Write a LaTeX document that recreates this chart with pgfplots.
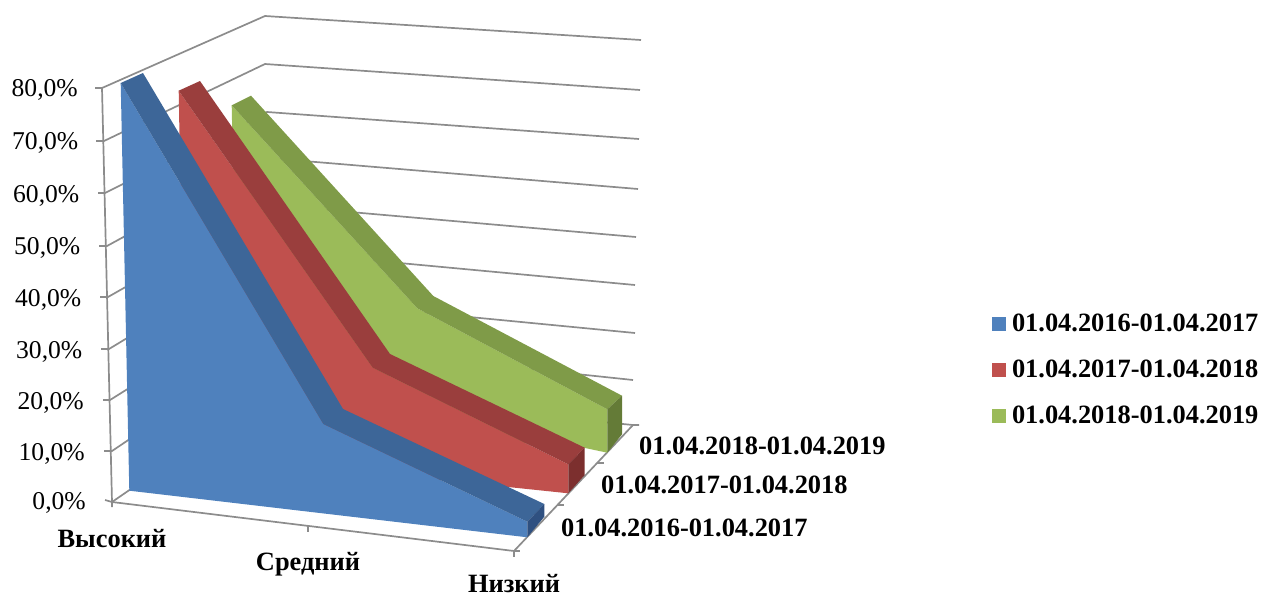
\documentclass[border=0pt]{standalone}
\usepackage{pgfplots}
\pgfplotsset{compat=1.18}
\usepackage{fontspec}
\setmainfont{Liberation Serif}
\definecolor{bluef}{HTML}{4F81BD}\definecolor{blueb}{HTML}{3D6698}\definecolor{blues}{HTML}{2F5080}
\definecolor{redf}{HTML}{C0504D}\definecolor{redb}{HTML}{9A3E3D}\definecolor{reds}{HTML}{7C2F2E}
\definecolor{greenf}{HTML}{9BBB59}\definecolor{greenb}{HTML}{7F9B48}\definecolor{greens}{HTML}{647B37}
\definecolor{gridc}{HTML}{8C8C8C}
\newcommand{\tl}[3]{\node[anchor=east,inner sep=0pt,font=\fontsize{25.6}{26}\selectfont] at (axis cs:#1,#2) {#3};}
\newcommand{\cl}[3]{\node[anchor=center,inner sep=0pt,font=\fontsize{26.4}{27}\selectfont\bfseries] at (axis cs:#1,#2) {#3};}
\newcommand{\dl}[3]{\node[anchor=west,inner sep=0pt,font=\fontsize{26.4}{27}\selectfont\bfseries] at (axis cs:#1,#2) {#3};}
\begin{document}
\begin{tikzpicture}
\useasboundingbox (0pt,0pt) rectangle (1264pt,597pt);
\begin{axis}[
  at={(0pt,0pt)},anchor=south west,scale only axis,
  width=1264pt,height=597pt,y dir=reverse,
  xmin=0,xmax=1264,ymin=0,ymax=597,
  hide axis,clip=false,
  legend style={draw=none,fill=none,at={(axis cs:992,312)},anchor=north west,
    font=\fontsize{26.4}{27}\selectfont\bfseries,
    inner sep=0pt,outer sep=0pt,
    /tikz/row sep=23pt,
    cells={anchor=west}},
  legend image code/.code={\fill[#1] (0pt,-7pt) rectangle (14pt,7pt);\path (18pt,0pt);},
]
% walls: tick start, front axis point, back corner, right end
\addplot[gridc,line width=1.7pt,forget plot] coordinates {(95,88)(102,88)(265,16)(641,40)};
\addplot[gridc,line width=1.7pt,forget plot] coordinates {(96,141)(104,141)(265,64)(640,90)};
\addplot[gridc,line width=1.7pt,forget plot] coordinates {(98,193)(105,193)(267,112)(639,139)};
\addplot[gridc,line width=1.7pt,forget plot] coordinates {(99,246)(107,246)(268,158)(638,189)};
\addplot[gridc,line width=1.7pt,forget plot] coordinates {(100,297)(108,297)(270,205)(636,237)};
\addplot[gridc,line width=1.7pt,forget plot] coordinates {(101,349)(109,349)(271,251)(635,285)};
\addplot[gridc,line width=1.7pt,forget plot] coordinates {(103,400)(110,400)(273,298)(635,333)};
\addplot[gridc,line width=1.7pt,forget plot] coordinates {(104,451)(112,451)(274,342)(633,380)};
\addplot[gridc,line width=1.7pt,forget plot] coordinates {(105,500)(112,502)(275,390)(633,425)};
% vertical axis
\addplot[gridc,line width=1.7pt,forget plot] coordinates {(102,88)(112,502)};
% floor edges and ticks
\addplot[gridc,line width=1.7pt,forget plot] coordinates {(112,507)(112,502)(514,551)(633,425)(639,425)};
\addplot[gridc,line width=1.7pt,forget plot] coordinates {(308,525)(308,532)};
\addplot[gridc,line width=1.7pt,forget plot] coordinates {(514,551)(514,557)};
\addplot[gridc,line width=1.7pt,forget plot] coordinates {(514,551)(520,551)};
\addplot[gridc,line width=1.7pt,forget plot] coordinates {(557,505)(564,505)};
\addplot[gridc,line width=1.7pt,forget plot] coordinates {(597,463)(604,463)};
% series 2018-2019
\addplot[fill=greenf,draw=none,forget plot] coordinates {(231.7,105.3)(417.3,308.3)(607.3,409.3)(607.3,452.7)(585,448)(238,420)} --cycle;
\addplot[fill=greenb,draw=none,forget plot] coordinates {(231.7,105.3)(251,95.7)(433.3,296)(622,395.7)(607.3,409.3)(417.3,308.3)} --cycle;
\addplot[fill=greens,draw=none,forget plot] coordinates {(607.3,409.3)(622,395.7)(622,434.3)(607.3,452.7)} --cycle;
% series 2017-2018
\addplot[fill=redf,draw=none,forget plot] coordinates {(178.7,90.7)(372.7,367.7)(568.3,464.3)(568.3,493.3)(508,487)(185,455)} --cycle;
\addplot[fill=redb,draw=none,forget plot] coordinates {(178.7,90.7)(200,81)(390,354)(584.7,447.7)(568.3,464.3)(372.7,367.7)} --cycle;
\addplot[fill=reds,draw=none,forget plot] coordinates {(568.3,464.3)(584.7,447.7)(584.7,475)(568.3,493.3)} --cycle;
% series 2016-2017
\addplot[fill=bluef,draw=none,forget plot] coordinates {(120.7,83)(323.3,424)(527.3,521.7)(527.3,537.3)(129.3,490.7)} --cycle;
\addplot[fill=blueb,draw=none,forget plot] coordinates {(120.7,83)(143,73)(343,409)(544.3,504)(527.3,521.7)(323.3,424)} --cycle;
\addplot[fill=blues,draw=none,forget plot] coordinates {(527.3,521.7)(544.3,504)(544.3,516.7)(527.3,537.3)} --cycle;
% legend
\addlegendimage{fill=bluef,draw=none}\addlegendentry{01.04.2016-01.04.2017}
\addlegendimage{fill=redf,draw=none}\addlegendentry{01.04.2017-01.04.2018}
\addlegendimage{fill=greenf,draw=none}\addlegendentry{01.04.2018-01.04.2019}
% labels
\tl{78}{90}{80,0\%}
\tl{78.5}{143}{70,0\%}
\tl{79.5}{196}{60,0\%}
\tl{80.5}{248}{50,0\%}
\tl{81.5}{300}{40,0\%}
\tl{82.5}{352}{30,0\%}
\tl{84}{403}{20,0\%}
\tl{85}{454}{10,0\%}
\tl{86}{503}{0,0\%}
\cl{112}{539}{Высокий}
\cl{308}{564}{Средний}
\cl{514}{583.5}{Низкий}
\dl{561}{528}{01.04.2016-01.04.2017}
\dl{601}{485}{01.04.2017-01.04.2018}
\dl{639}{446}{01.04.2018-01.04.2019}
\end{axis}
\end{tikzpicture}
\end{document}
